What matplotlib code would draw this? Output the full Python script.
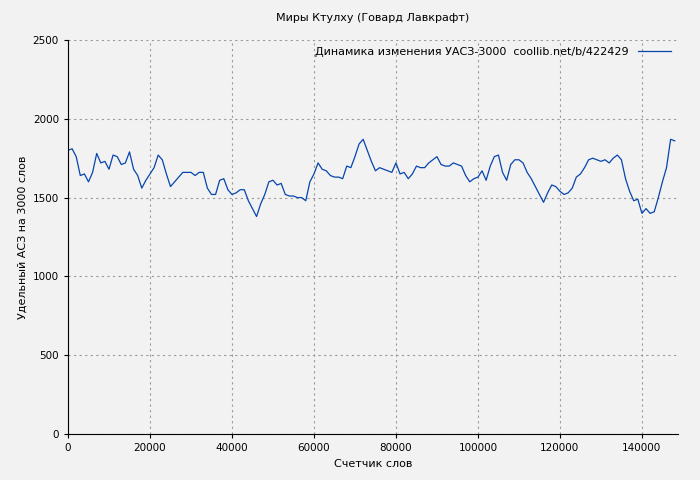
import numpy as np
import matplotlib
matplotlib.use("Agg")
import matplotlib.pyplot as plt

words = np.arange(0, 149000, 1000)
values = [
    1800, 1810, 1760, 1640, 1650, 1600, 1660, 1780, 1720, 1730,
    1680, 1770, 1760, 1710, 1720, 1790, 1680, 1640, 1560, 1610,
    1650, 1690, 1770, 1740, 1650, 1570, 1600, 1630, 1660, 1660,
    1660, 1640, 1660, 1660, 1560, 1520, 1520, 1610, 1620, 1550,
    1520, 1530, 1550, 1550, 1480, 1430, 1380, 1460, 1520, 1600,
    1610, 1580, 1590, 1520, 1510, 1510, 1500, 1500, 1480, 1600,
    1650, 1720, 1680, 1670, 1640, 1630, 1630, 1620, 1700, 1690,
    1760, 1840, 1870, 1800, 1730, 1670, 1690, 1680, 1670, 1660,
    1720, 1650, 1660, 1620, 1650, 1700, 1690, 1690, 1720, 1740,
    1760, 1710, 1700, 1700, 1720, 1710, 1700, 1640, 1600, 1620,
    1630, 1670, 1610, 1700, 1760, 1770, 1660, 1610, 1710, 1740,
    1740, 1720, 1660, 1620, 1570, 1520, 1470, 1530, 1580, 1570,
    1540, 1520, 1530, 1560, 1630, 1650, 1690, 1740, 1750, 1740,
    1730, 1740, 1720, 1750, 1770, 1740, 1620, 1540, 1480, 1490,
    1400, 1430, 1400, 1410, 1500, 1600, 1690, 1870, 1860,
]

plt.rcParams.update({"font.family": "DejaVu Sans", "font.size": 7.5})

fig = plt.figure(figsize=(7, 4.8), dpi=100, facecolor="#f2f2f2")
ax = fig.add_axes([68 / 700, 1 - 434 / 480, 610 / 700, 394 / 480])
ax.set_facecolor("#f2f2f2")

ax.plot(words, values, color="#0645ad", linewidth=0.9,
        label="Динамика изменения УАСЗ-3000  coollib.net/b/422429")

ax.set_xlim(0, 148800)
ax.set_ylim(0, 2500)
ax.set_xticks(np.arange(0, 140001, 20000))
ax.set_yticks(np.arange(0, 2501, 500))
ax.grid(True, color="#999999", linestyle=(0, (2, 3)), linewidth=0.8)
ax.tick_params(direction="out", length=3, colors="black")
for side in ["top", "right"]:
    ax.spines[side].set_visible(False)

ax.set_title("Миры Ктулху (Говард Лавкрафт)", fontsize=8, pad=14)
ax.set_xlabel("Счетчик слов", fontsize=8)
ax.set_ylabel("Удельный АСЗ на 3000 слов", fontsize=8)
leg = ax.legend(loc="upper right", frameon=False, markerfirst=False,
                handlelength=3, borderaxespad=0.2, fontsize=8)

fig.savefig("out.png", dpi=100, facecolor=fig.get_facecolor())
